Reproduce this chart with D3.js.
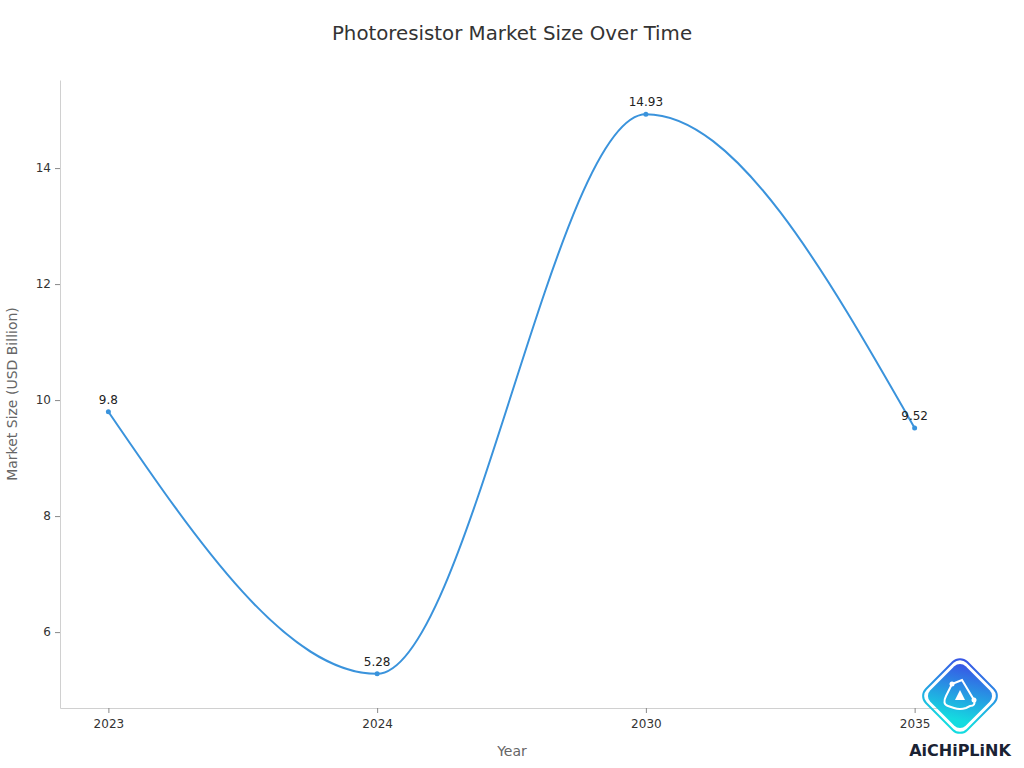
<!DOCTYPE html>
<html>
<head>
<meta charset="utf-8">
<script src="https://cdn.jsdelivr.net/npm/d3@7"></script>
<style>
  body { margin: 0; background: #fff; }
  svg { font-family: "DejaVu Sans", sans-serif; }
</style>
</head>
<body>
<svg id="chart" width="1024" height="768"></svg>
<script>
// data
var years = ["2023", "2024", "2030", "2035"];
var sizes = [9.8, 5.28, 14.93, 9.52];
var yTicks = [6, 8, 10, 12, 14];

var svg = d3.select("#chart"),
    margin = {top: 80, right: 61, bottom: 60, left: 60},
    width = +svg.attr("width") - margin.left - margin.right,
    height = +svg.attr("height") - margin.top - margin.bottom,
    g = svg.append("g").attr("transform", "translate(" + margin.left + "," + margin.top + ")");

var data = years.map(function(y, i) { return {year: y, value: sizes[i]}; });

var x = d3.scalePoint()
    .domain(years)
    .range([0, width])
    .padding(0.18);

var lo = d3.min(sizes), hi = d3.max(sizes), pad = (hi - lo) * 0.061;
var y = d3.scaleLinear()
    .domain([lo - pad, hi + pad])
    .range([height, 0]);

svg.append("text")
    .attr("x", 512).attr("y", 40)
    .attr("text-anchor", "middle")
    .attr("font-size", 19.8)
    .attr("fill", "#333")
    .text("Photoresistor Market Size Over Time");

// axes
g.append("g")
    .attr("transform", "translate(0," + height + ")")
    .call(d3.axisBottom(x).tickSize(5).tickSizeOuter(0).tickPadding(6))
    .call(styleAxis);

g.append("g")
    .call(d3.axisLeft(y).tickValues(yTicks).tickSize(5).tickSizeOuter(0).tickPadding(4))
    .call(styleAxis);

function styleAxis(a) {
  a.select(".domain").attr("stroke", "#d0d0d0").attr("stroke-width", 1);
  a.selectAll(".tick line").attr("stroke", "#888");
  a.selectAll(".tick text").attr("fill", "#333").attr("font-size", 12)
      .attr("font-family", "DejaVu Sans");
}

svg.append("text")
    .attr("x", 512).attr("y", 756)
    .attr("text-anchor", "middle")
    .attr("font-size", 14).attr("fill", "#666")
    .text("Year");

svg.append("text")
    .attr("transform", "translate(17," + (margin.top + height / 2) + ") rotate(-90)")
    .attr("text-anchor", "middle")
    .attr("font-size", 14).attr("fill", "#666")
    .text("Market Size (USD Billion)");

var line = d3.line()
    .x(function(d) { return x(d.year); })
    .y(function(d) { return y(d.value); })
    .curve(d3.curveMonotoneX);

g.append("path")
    .datum(data)
    .attr("fill", "none")
    .attr("stroke", "#3a93dc")
    .attr("stroke-width", 2)
    .attr("d", line);

g.selectAll(".dot")
    .data(data)
  .enter().append("circle")
    .attr("cx", function(d) { return x(d.year); })
    .attr("cy", function(d) { return y(d.value); })
    .attr("r", 2.5)
    .attr("fill", "#3a93dc");

g.selectAll(".lbl")
    .data(data)
  .enter().append("text")
    .attr("x", function(d) { return x(d.year); })
    .attr("y", function(d) { return y(d.value) - 8; })
    .attr("text-anchor", "middle")
    .attr("font-size", 12)
    .attr("fill", "#222")
    .text(function(d) { return d.value; });

// logo
var defs = svg.append("defs");
var grad = defs.append("linearGradient").attr("id", "lg")
    .attr("x1", "0%").attr("y1", "0%").attr("x2", "60%").attr("y2", "100%");
grad.append("stop").attr("offset", "0%").attr("stop-color", "#3a4fe6");
grad.append("stop").attr("offset", "100%").attr("stop-color", "#14dbe0");

var logo = svg.append("g").attr("transform", "translate(960,696)");
logo.append("rect")
    .attr("x", -29).attr("y", -29).attr("width", 58).attr("height", 58)
    .attr("rx", 10)
    .attr("transform", "rotate(45)")
    .attr("fill", "none")
    .attr("stroke", "url(#lg)").attr("stroke-width", 2);
logo.append("rect")
    .attr("x", -25).attr("y", -25).attr("width", 50).attr("height", 50)
    .attr("rx", 8)
    .attr("transform", "rotate(45)")
    .attr("fill", "url(#lg)");
logo.append("path")
    .attr("d", "M-8,-12 L2,-16 L14,4 Q16,10 10,10 L6,12 Q0,14 -6,12 L-12,10 Q-18,8 -14,0 Z")
    .attr("fill", "none").attr("stroke", "#fff").attr("stroke-width", 2);
logo.append("path")
    .attr("d", "M0,-6 L5,4 L-5,4 Z")
    .attr("fill", "#fff");
logo.append("circle").attr("cx", -8).attr("cy", -12).attr("r", 2.5).attr("fill", "#fff");
logo.append("circle").attr("cx", 14).attr("cy", 4).attr("r", 2.5).attr("fill", "#fff");

svg.append("text")
    .attr("x", 960).attr("y", 756)
    .attr("text-anchor", "middle")
    .attr("font-size", 16).attr("font-weight", "bold")
    .attr("fill", "#1a2233")
    .text("AiCHiPLiNK");
</script>
</body>
</html>
